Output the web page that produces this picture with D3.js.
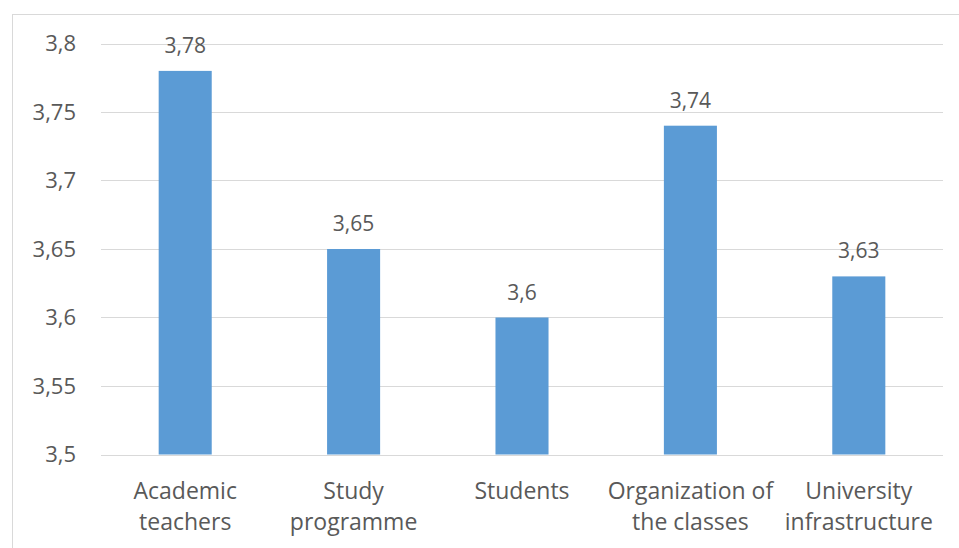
<!DOCTYPE html>
<html><head><meta charset="utf-8">
<script src="https://cdn.jsdelivr.net/npm/d3@7"></script>
<style>body{margin:0;background:#fff}svg{display:block}text{font-family:"Open Sans",sans-serif;fill:#595959}</style>
</head><body><svg id="c" width="959" height="548"></svg>
<script>
const categories = [["Academic","teachers"],["Study","programme"],["Students"],["Organization of","the classes"],["University","infrastructure"]];
const values = [3.78, 3.65, 3.6, 3.74, 3.63];
const valueLabels = ["3,78","3,65","3,6","3,74","3,63"];
const yTicks = [3.5, 3.55, 3.6, 3.65, 3.7, 3.75, 3.8];
const yTickLabels = ["3,5","3,55","3,6","3,65","3,7","3,75","3,8"];

(function(){
const svg = d3.select("#c");
svg.append("rect").attr("x",12.5).attr("y",14.5).attr("width",960).attr("height",560)
  .attr("fill","#fff").attr("stroke","#d9d9d9").attr("stroke-width",1);

const pl = 101, pr = 943, pt = 43.5, pb = 454.5;
const x = d3.scaleBand().domain(d3.range(categories.length)).range([pl,pr]).paddingInner(0.685).paddingOuter(0.3425);
const y = d3.scaleLinear().domain([3.5,3.8]).range([pb,pt]);

const g = svg.append("g");
g.selectAll("line.grid").data(yTicks).join("line").attr("class","grid")
  .attr("x1",pl).attr("x2",pr).attr("y1",d=>Math.round(y(d))+0.5).attr("y2",d=>Math.round(y(d))+0.5)
  .attr("stroke","#d9d9d9").attr("stroke-width",1);
g.selectAll("text.yt").data(yTicks).join("text").attr("class","yt")
  .attr("x",76).attr("y",d=>y(d)).attr("dy","0.36em").attr("text-anchor","end")
  .style("font-size","22px").text((d,i)=>yTickLabels[i]);

g.selectAll("rect.bar").data(values).join("rect").attr("class","bar")
  .attr("x",(d,i)=>x(i)).attr("width",x.bandwidth()).attr("y",d=>y(d)).attr("height",d=>y(3.5)-y(d))
  .attr("fill","#5B9BD5");

g.selectAll("text.vl").data(values).join("text").attr("class","vl")
  .attr("x",(d,i)=>x(i)+x.bandwidth()/2).attr("y",d=>y(d)-18).attr("text-anchor","middle")
  .style("font-size","21px").text((d,i)=>valueLabels[i]);

categories.forEach((lines,i)=>{
  const t = g.append("text").attr("text-anchor","middle").style("font-size","23px");
  lines.forEach((l,j)=>{
    t.append("tspan").attr("x",x(i)+x.bandwidth()/2).attr("y",499+j*31).text(l);
  });
});
})();
</script></body></html>
